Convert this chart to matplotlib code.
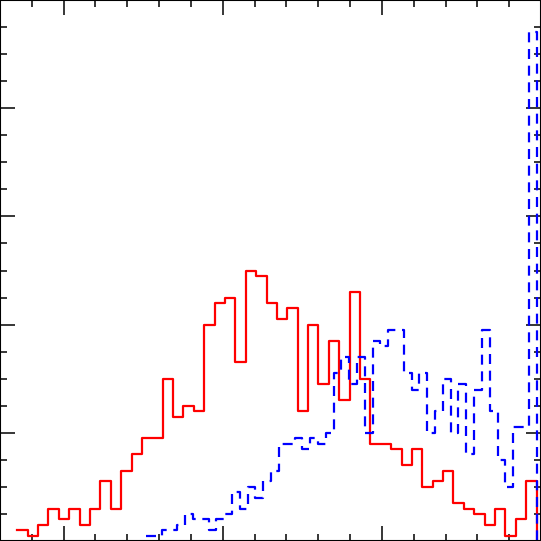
import matplotlib
matplotlib.use("Agg")
import matplotlib.pyplot as plt
from matplotlib.ticker import MultipleLocator
import numpy as np

# bin ranges (x in axis units) and counts per bin, 50 bins each
red_range = (-0.1456, 1.486)
red_counts = [2, 1, 3, 6, 4, 6, 3, 6, 11, 6,
              13, 16, 19, 19, 30, 23, 25, 24, 40, 44,
              45, 33, 50, 49, 44, 41, 43, 24, 40, 29,
              37, 26, 46, 30, 18, 18, 17, 14, 17, 10,
              11, 13, 7, 6, 5, 3, 6, 1, 4, 11]

blue_range = (0.2594, 1.486)
blue_counts = [1, 1, 2, 2, 3, 5, 4, 4, 2, 4,
               5, 9, 6, 10, 8, 11, 13, 18, 18, 19,
               17, 19, 18, 20, 31, 34, 29, 34, 20, 37,
               36, 39, 39, 31, 28, 31, 20, 24, 30, 20,
               29, 16, 28, 39, 24, 15, 10, 21, 21, 94]


def step_hist(ax, rng, counts, **kw):
    edges = np.linspace(rng[0], rng[1], len(counts) + 1)
    ax.step(edges, np.append(counts, 0), where="post", **kw)


fig = plt.figure(figsize=(5.41, 5.41), dpi=100)
ax = fig.add_axes([0, 0, 1, 1])

step_hist(ax, red_range, red_counts, color="red", lw=1.6)
step_hist(ax, blue_range, blue_counts, color="blue", lw=1.6,
          linestyle=(0, (4.5, 3)))

ax.set_xlim(-0.2, 1.5)
ax.set_ylim(0, 100)
ax.xaxis.set_major_locator(MultipleLocator(0.5))
ax.xaxis.set_minor_locator(MultipleLocator(0.1))
ax.yaxis.set_major_locator(MultipleLocator(20))
ax.yaxis.set_minor_locator(MultipleLocator(5))
ax.tick_params(which="both", direction="in", top=True, right=True,
               labelbottom=False, labelleft=False, width=1.1)
ax.tick_params(which="major", length=10.5)
ax.tick_params(which="minor", length=5)
for s in ax.spines.values():
    s.set_linewidth(1.5)

plt.savefig("out.png", dpi=100)
